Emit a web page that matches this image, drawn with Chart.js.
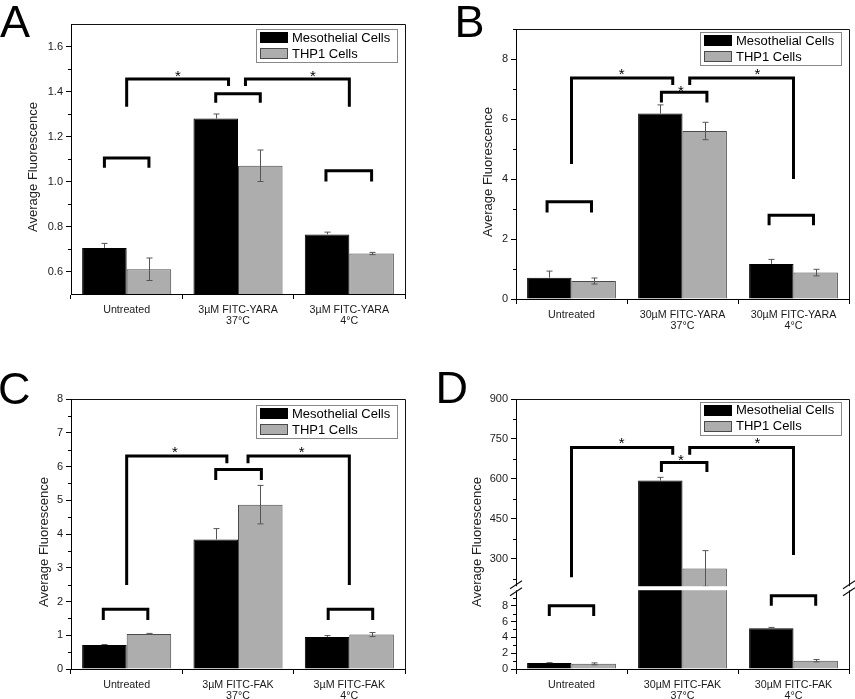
<!DOCTYPE html>
<html><head><meta charset="utf-8">
<script src="https://cdn.jsdelivr.net/npm/chart.js@4.4.1/dist/chart.umd.min.js"></script>
<style>
html,body{margin:0;padding:0;background:#fff;}
#wrap{position:relative;width:855px;height:699px;overflow:hidden;background:#fff;}
canvas{position:absolute;}
</style></head><body>
<div id="wrap">
<canvas id="cA" style="left:0px;top:0px;width:430px;height:340px" width="430" height="340"></canvas>
<canvas id="cB" style="left:430px;top:0px;width:425px;height:340px" width="425" height="340"></canvas>
<canvas id="cC" style="left:0px;top:340px;width:430px;height:359px" width="430" height="359"></canvas>
<canvas id="cD" style="left:430px;top:340px;width:425px;height:359px" width="425" height="359"></canvas>
</div>
<script>
const FONT = "'Liberation Sans', Arial, Helvetica, sans-serif";
const seriesNames = ['Mesothelial Cells', 'THP1 Cells'];
const yTitle = 'Average Fluorescence';

// ---- Panel A ----
const categoriesA = ['Untreated', ['3\u00b5M FITC-YARA', '37\u00b0C'], ['3\u00b5M FITC-YARA', '4\u00b0C']];
const mesoA = [0.705, 1.28, 0.765];
const mesoErrA = [0.02, 0.02, 0.01];
const thp1A = [0.61, 1.07, 0.68];
const thp1ErrA = [0.05, 0.07, 0.005];
const yTicksA = [0.6, 0.8, 1.0, 1.2, 1.4, 1.6];
const yTickLabelsA = ['0.6', '0.8', '1.0', '1.2', '1.4', '1.6'];
const yMinorA = [0.7, 0.9, 1.1, 1.3, 1.5];
// [x1, x2, yLeftLeg, yTop, yRightLeg] in category index / data units
const bracketsA = [[-0.2, 0.2, 1.061, 1.105, 1.061], [1.79, 2.2, 1.0, 1.048, 1.0], [0, 0.915, 1.332, 1.456, 1.425], [1.067, 2, 1.425, 1.456, 1.332], [0.8, 1.2, 1.35, 1.39, 1.35]];
const starsA = [[0.46, 1.483], [1.674, 1.483]];

// ---- Panel B ----
const categoriesB = ['Untreated', ['30\u00b5M FITC-YARA', '37\u00b0C'], ['30\u00b5M FITC-YARA', '4\u00b0C']];
const mesoB = [0.71, 6.18, 1.17];
const mesoErrB = [0.22, 0.29, 0.15];
const thp1B = [0.6, 5.6, 0.88];
const thp1ErrB = [0.1, 0.29, 0.11];
const yTicksB = [0, 2, 4, 6, 8];
const yTickLabelsB = ['0', '2', '4', '6', '8'];
const yMinorB = [1, 3, 5, 7, 9];
const bracketsB = [[-0.22, 0.18, 2.88, 3.24, 2.88], [1.78, 2.18, 2.46, 2.79, 2.46], [0, 0.912, 4.5, 7.37, 7.13], [1.065, 2, 7.13, 7.37, 4.0], [0.81, 1.22, 6.55, 6.89, 6.55]];
const starsB = [[0.452, 7.61], [0.986, 7.07], [1.674, 7.61]];

// ---- Panel C ----
const categoriesC = ['Untreated', ['3\u00b5M FITC-FAK', '37\u00b0C'], ['3\u00b5M FITC-FAK', '4\u00b0C']];
const mesoC = [0.71, 3.84, 0.95];
const mesoErrC = [0.015, 0.32, 0.04];
const thp1C = [1.04, 4.87, 1.02];
const thp1ErrC = [0.015, 0.57, 0.06];
const yTicksC = [0, 1, 2, 3, 4, 5, 6, 7, 8];
const yTickLabelsC = ['0', '1', '2', '3', '4', '5', '6', '7', '8'];
const yMinorC = [0.5, 1.5, 2.5, 3.5, 4.5, 5.5, 6.5, 7.5];
const bracketsC = [[-0.21, 0.19, 1.45, 1.77, 1.45], [1.81, 2.21, 1.45, 1.77, 1.45], [0, 0.9, 2.49, 6.31, 6.1], [1.09, 2, 6.1, 6.31, 2.49], [0.8, 1.21, 5.6, 5.91, 5.6]];
const starsC = [[0.434, 6.55], [1.572, 6.55]];

// ---- Panel D ----
const categoriesD = ['Untreated', ['30\u00b5M FITC-FAK', '37\u00b0C'], ['30\u00b5M FITC-FAK', '4\u00b0C']];
const mesoD = [0.75, 594, 5.15];
const mesoErrD = [0.05, 12, 0.1];
const thp1D = [0.65, 264, 1.05];
const thp1ErrD = [0.12, 67, 0.15];
const yTicksD = [0, 2, 4, 6, 8, 300, 450, 600, 750, 900];
const yTickLabelsD = ['0', '2', '4', '6', '8', '300', '450', '600', '750', '900'];
const yMinorD = [1, 3, 5, 7, 9, 225, 375, 525, 675, 825];
const bracketsD = [[-0.2, 0.2, 6.7, 8.0, 6.7], [1.8, 2.2, 8.0, 9.24, 8.0], [0, 0.912, 231, 718, 691], [1.065, 2, 691, 718, 315], [0.81, 1.22, 626, 662, 626]];
const starsD = [[0.452, 747], [0.986, 685], [1.674, 747]];

// ---- broken linear scale (axis break) ----
class BrokenLinearScale extends Chart.LinearScale {
  static id = 'brokenLinear';
  static defaults = Chart.LinearScale.defaults;
  _bk() {
    const o = this.options.broken;
    const bp = this.bottom - (this.bottom - this.top) * o.lowFrac;
    return {o, bp};
  }
  getPixelForValue(value) {
    const {o, bp} = this._bk();
    if (value <= o.lowMax) return this.bottom - (value - this.min) / (o.lowMax - this.min) * (this.bottom - bp);
    if (value >= o.highMin) return bp - (value - o.highMin) / (this.max - o.highMin) * (bp - this.top);
    return bp;
  }
  getValueForPixel(px) {
    const {o, bp} = this._bk();
    if (px >= bp) return this.min + (this.bottom - px) / (this.bottom - bp) * (o.lowMax - this.min);
    return o.highMin + (bp - px) / (bp - this.top) * (this.max - o.highMin);
  }
}
Chart.register(BrokenLinearScale);

function decorPlugin(cfg) {
  return {
    id: 'decor' + cfg.letter,
    afterDatasetsDraw(chart) {
      const ctx = chart.ctx;
      const ca = chart.chartArea;
      const xs = chart.scales.x, ys = chart.scales.y;
      ctx.save();
      // error bars
      chart.data.datasets.forEach((ds, di) => {
        const meta = chart.getDatasetMeta(di);
        meta.data.forEach((el, j) => {
          const v = ds.data[j], e = ds.errors[j];
          const x = Math.round(el.x) + 0.5;
          const yt = ys.getPixelForValue(v + e);
          const yb = di === 0 ? el.y : ys.getPixelForValue(v - e);
          ctx.strokeStyle = '#555';
          ctx.lineWidth = 1;
          ctx.beginPath();
          ctx.moveTo(x, yb); ctx.lineTo(x, yt);
          ctx.moveTo(x - 3, yt); ctx.lineTo(x + 3, yt);
          if (di !== 0) { ctx.moveTo(x - 3, yb); ctx.lineTo(x + 3, yb); }
          ctx.stroke();
        });
      });
      // frame (top and right)
      ctx.strokeStyle = '#111';
      ctx.lineWidth = 1;
      ctx.beginPath();
      ctx.moveTo(Math.round(ca.left) + 0.5, Math.round(ca.top) + 0.5);
      ctx.lineTo(Math.round(ca.right) + 0.5, Math.round(ca.top) + 0.5);
      ctx.lineTo(Math.round(ca.right) + 0.5, Math.round(ca.bottom) + 0.5);
      ctx.stroke();
      // axis break
      if (cfg.broken) {
        const bp = ys.bottom - (ys.bottom - ys.top) * ys.options.broken.lowFrac;
        ctx.fillStyle = '#fff';
        ctx.fillRect(ca.left - 2, bp - 2, ca.right - ca.left + 4, 4);
        ctx.strokeStyle = '#111';
        ctx.lineWidth = 1.2;
        [ca.left, ca.right].forEach(ax => {
          ctx.beginPath();
          [-3.5, 3.5].forEach(off => {
            ctx.moveTo(ax - 6, bp + off + 4);
            ctx.lineTo(ax + 6, bp + off - 4);
          });
          ctx.stroke();
        });
      }
      // brackets
      ctx.strokeStyle = '#000';
      ctx.lineWidth = 3;
      ctx.lineJoin = 'miter';
      ctx.lineCap = 'butt';
      cfg.brackets.forEach(b => {
        const x1 = xs.getPixelForValue(b[0]), x2 = xs.getPixelForValue(b[1]);
        ctx.beginPath();
        ctx.moveTo(x1, ys.getPixelForValue(b[2]));
        ctx.lineTo(x1, ys.getPixelForValue(b[3]));
        ctx.lineTo(x2, ys.getPixelForValue(b[3]));
        ctx.lineTo(x2, ys.getPixelForValue(b[4]));
        ctx.stroke();
      });
      // significance stars
      ctx.fillStyle = '#000';
      ctx.font = '15px ' + FONT;
      ctx.textAlign = 'center';
      ctx.textBaseline = 'alphabetic';
      cfg.stars.forEach(s => {
        ctx.fillText('*', xs.getPixelForValue(s[0]), ys.getPixelForValue(s[1]) + 8.6);
      });
      // minor ticks
      ctx.strokeStyle = '#000';
      ctx.lineWidth = 1;
      ctx.beginPath();
      cfg.minor.forEach(v => {
        const y = Math.round(ys.getPixelForValue(v)) + 0.5;
        ctx.moveTo(ca.left - 3, y); ctx.lineTo(ca.left, y);
      });
      ctx.stroke();
      // legend
      const lx = ca.right - 8 - 141, ly = ca.top + cfg.legendDy;
      ctx.strokeStyle = '#888';
      ctx.lineWidth = 1;
      ctx.strokeRect(Math.round(lx) + 0.5, Math.round(ly) + 0.5, 141, 33);
      chart.data.datasets.forEach((ds, i) => {
        const sy = ly + 3 + i * 16;
        ctx.fillStyle = ds.backgroundColor;
        ctx.fillRect(Math.round(lx) + 4, Math.round(sy), 28, 11);
        ctx.strokeStyle = ds.borderColor;
        ctx.strokeRect(Math.round(lx) + 4.5, Math.round(sy) + 0.5, 27, 10);
        ctx.fillStyle = '#000';
        ctx.font = '13px ' + FONT;
        ctx.textAlign = 'left';
        ctx.textBaseline = 'middle';
        ctx.fillText(ds.label, lx + 36, sy + 6);
      });
      // y-axis title
      ctx.save();
      ctx.translate(cfg.titleX + 3.3, (ca.top + ca.bottom) / 2 + 8);
      ctx.rotate(-Math.PI / 2);
      ctx.fillStyle = '#222';
      ctx.font = '13px ' + FONT;
      ctx.textAlign = 'center';
      ctx.textBaseline = 'alphabetic';
      ctx.fillText(yTitle, 0, 0);
      ctx.restore();
      // panel letter
      ctx.fillStyle = '#000';
      ctx.font = '45px ' + FONT;
      ctx.textAlign = 'left';
      ctx.textBaseline = 'alphabetic';
      ctx.fillText(cfg.letter, cfg.letterX, cfg.letterY);
      ctx.restore();
    }
  };
}

function makePanel(id, p) {
  const yScale = {
    type: p.broken ? 'brokenLinear' : 'linear',
    min: p.yMin, max: p.yMax,
    afterFit: s => { s.width = p.yW; },
    afterBuildTicks: s => { s.ticks = p.yTicks.map(v => ({value: v})); },
    ticks: {
      callback: (v, i) => p.yTickLabels[i],
      font: {family: FONT, size: 11}, color: '#1a1a1a', padding: 3, autoSkip: false
    },
    grid: {drawOnChartArea: false, drawTicks: true, tickLength: 5, tickColor: '#000'},
    border: {display: true, color: '#000', width: 1}
  };
  if (p.broken) yScale.broken = p.broken;
  return new Chart(document.getElementById(id), {
    type: 'bar',
    data: {
      labels: p.categories,
      datasets: [
        {label: seriesNames[0], data: p.meso, errors: p.mesoErr, backgroundColor: '#000000', borderColor: '#000000', borderWidth: 1, categoryPercentage: 0.8, barPercentage: 1.0},
        {label: seriesNames[1], data: p.thp1, errors: p.thp1Err, backgroundColor: '#adadad', borderColor: '#4a4a4a', borderWidth: 1, categoryPercentage: 0.8, barPercentage: 1.0}
      ]
    },
    options: {
      responsive: false,
      animation: false,
      devicePixelRatio: 1,
      layout: {padding: {left: 0, right: p.padR, top: p.padT, bottom: 0}},
      plugins: {legend: {display: false}, tooltip: {enabled: false}},
      scales: {
        x: {
          type: 'category', offset: true,
          grid: {offset: true, drawOnChartArea: false, drawTicks: true, tickLength: 5, tickColor: '#000'},
          border: {display: true, color: '#000', width: 1},
          ticks: {font: {family: FONT, size: 10.7, lineHeight: 1.05}, color: '#1a1a1a', padding: 5, maxRotation: 0, autoSkip: false},
          afterFit: s => { s.height = p.xH; }
        },
        y: yScale
      }
    },
    plugins: [decorPlugin(p)]
  });
}

makePanel('cA', {letter: 'A', letterX: 0, letterY: 37, titleX: 33.3, legendDy: 5,
  categories: categoriesA, meso: mesoA, mesoErr: mesoErrA, thp1: thp1A, thp1Err: thp1ErrA,
  yMin: 0.5, yMax: 1.7, yTicks: yTicksA, yTickLabels: yTickLabelsA, minor: yMinorA,
  brackets: bracketsA, stars: starsA, yW: 71, xH: 46, padR: 25, padT: 24});
makePanel('cB', {letter: 'B', letterX: 24.5, letterY: 37, titleX: 58.3, legendDy: 3,
  categories: categoriesB, meso: mesoB, mesoErr: mesoErrB, thp1: thp1B, thp1Err: thp1ErrB,
  yMin: 0, yMax: 9, yTicks: yTicksB, yTickLabels: yTickLabelsB, minor: yMinorB,
  brackets: bracketsB, stars: starsB, yW: 86, xH: 41, padR: 6, padT: 29});
makePanel('cC', {letter: 'C', letterX: -2, letterY: 64, titleX: 44.7, legendDy: 6,
  categories: categoriesC, meso: mesoC, mesoErr: mesoErrC, thp1: thp1C, thp1Err: thp1ErrC,
  yMin: 0, yMax: 8, yTicks: yTicksC, yTickLabels: yTickLabelsC, minor: yMinorC,
  brackets: bracketsC, stars: starsC, yW: 71, xH: 30, padR: 25, padT: 59});
makePanel('cD', {letter: 'D', letterX: 5.5, letterY: 63, titleX: 47.5, legendDy: 2.5,
  categories: categoriesD, meso: mesoD, mesoErr: mesoErrD, thp1: thp1D, thp1Err: thp1ErrD,
  yMin: 0, yMax: 900, yTicks: yTicksD, yTickLabels: yTickLabelsD, minor: yMinorD,
  brackets: bracketsD, stars: starsD, yW: 86, xH: 30, padR: 6, padT: 59,
  broken: {lowMax: 10.2, highMin: 190, lowFrac: 0.2992}});
</script>
</body></html>
